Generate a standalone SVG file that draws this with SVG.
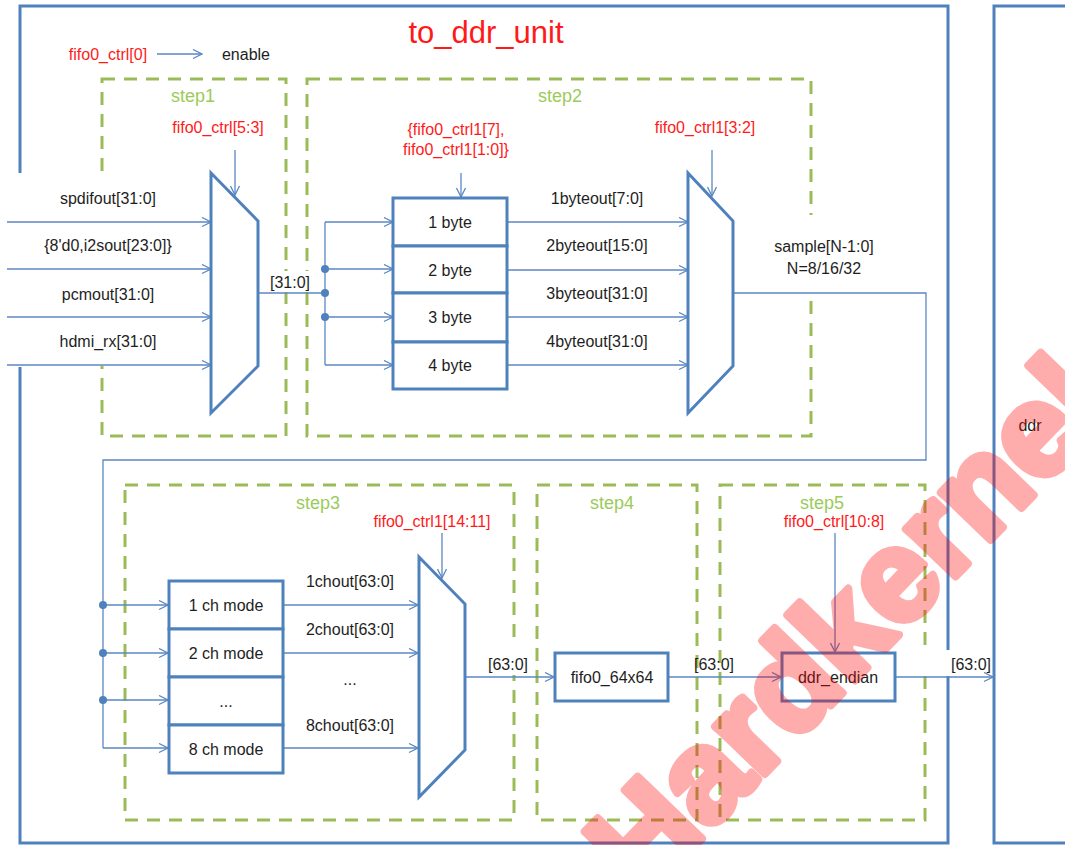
<svg xmlns="http://www.w3.org/2000/svg" width="1065" height="845" viewBox="0 0 1065 845">
<defs>
<style>
.t{font-family:"Liberation Sans",Arial,sans-serif;font-size:16px;fill:#1e1e1e;text-anchor:middle}
.r{fill:#ff1a1a}
.g{fill:#9bcb5a;font-size:18px}
.box{fill:#fff;stroke:#4f81bd;stroke-width:3}
.mux{fill:#fff;stroke:#4f81bd;stroke-width:3;stroke-linejoin:miter}
.ln{fill:none;stroke:#5b87c2;stroke-width:1.3}
.dash{fill:none;stroke:#9bbb59;stroke-width:3;stroke-dasharray:13 9}
.frame{fill:none;stroke:#4f81bd;stroke-width:3}
.dot{fill:#4f81bd}
</style>
<marker id="ar" markerWidth="11" markerHeight="11" refX="10" refY="5.5" orient="auto" markerUnits="userSpaceOnUse">
<path d="M1,1 L10,5.5 L1,10" fill="none" stroke="#5b87c2" stroke-width="1.3"/>
</marker>
</defs>
<rect width="1065" height="845" fill="#fff"/>

<!-- frames -->
<g id="to_ddr_unit">
<path class="frame" d="M20,173 V6 H948 V650 M948,676 V843 H20 V367"/>
<text class="t r" x="486" y="43" style="font-size:31px">to_ddr_unit</text>
</g>
<g id="ddr">
<path class="frame" d="M1070,6 H994 V843 H1070"/>
<text class="t" x="1030" y="431">ddr</text>
</g>

<!-- step boxes -->
<g id="step1"><rect class="dash" x="102" y="79" width="184" height="357"/><text class="t g" x="193" y="102">step1</text></g>
<g id="step2"><rect class="dash" x="307" y="79" width="504" height="357"/><text class="t g" x="560" y="102">step2</text></g>
<g id="step3"><rect class="dash" x="125" y="485" width="389" height="335"/><text class="t g" x="318" y="509">step3</text></g>
<g id="step4"><rect class="dash" x="537" y="485" width="160" height="335"/><text class="t g" x="612" y="509">step4</text></g>
<g id="step5"><rect class="dash" x="720" y="485" width="205" height="335"/><text class="t g" x="822" y="509">step5</text></g>

<!-- label backgrounds (cover frame/dash lines like in reference) -->
<rect x="0" y="174" width="209" height="192" fill="#fff"/>
<rect x="266" y="271" width="46" height="21" fill="#fff"/>
<rect x="760" y="215" width="140" height="77" fill="#fff"/>
<rect x="480" y="645" width="55" height="30" fill="#fff"/>
<rect x="918" y="651" width="74" height="25" fill="#fff"/>

<!-- connectors -->
<g id="connectors">
<path class="ln" d="M157,54 H202" marker-end="url(#ar)"/>
<path class="ln" d="M7,222 H211" marker-end="url(#ar)"/>
<path class="ln" d="M7,269 H211" marker-end="url(#ar)"/>
<path class="ln" d="M7,317 H211" marker-end="url(#ar)"/>
<path class="ln" d="M7,365 H211" marker-end="url(#ar)"/>
<path class="ln" d="M235,150 V195" marker-end="url(#ar)"/>
<path class="ln" d="M258,293 H325"/>
<path class="ln" d="M325,222 V365"/>
<path class="ln" d="M325,222 H393" marker-end="url(#ar)"/>
<path class="ln" d="M325,269 H393" marker-end="url(#ar)"/>
<path class="ln" d="M325,317 H393" marker-end="url(#ar)"/>
<path class="ln" d="M325,365 H393" marker-end="url(#ar)"/>
<circle class="dot" cx="325" cy="269" r="4"/>
<circle class="dot" cx="325" cy="293" r="4"/>
<circle class="dot" cx="325" cy="317" r="4"/>
<path class="ln" d="M461,173 V197" marker-end="url(#ar)"/>
<path class="ln" d="M507,222 H688" marker-end="url(#ar)"/>
<path class="ln" d="M507,270 H688" marker-end="url(#ar)"/>
<path class="ln" d="M507,317 H688" marker-end="url(#ar)"/>
<path class="ln" d="M507,365 H688" marker-end="url(#ar)"/>
<path class="ln" d="M712,150 V196" marker-end="url(#ar)"/>
<path class="ln" d="M733,293 H926 V460 H103 V748"/>
<path class="ln" d="M103,605 H168" marker-end="url(#ar)"/>
<path class="ln" d="M103,653 H168" marker-end="url(#ar)"/>
<path class="ln" d="M103,700 H168" marker-end="url(#ar)"/>
<path class="ln" d="M103,748 H168" marker-end="url(#ar)"/>
<circle class="dot" cx="103" cy="605" r="4"/>
<circle class="dot" cx="103" cy="653" r="4"/>
<circle class="dot" cx="103" cy="700" r="4"/>
<path class="ln" d="M283,605 H418" marker-end="url(#ar)"/>
<path class="ln" d="M283,653 H418" marker-end="url(#ar)"/>
<path class="ln" d="M283,748 H418" marker-end="url(#ar)"/>
<path class="ln" d="M442,533 V578" marker-end="url(#ar)"/>
<path class="ln" d="M465,677 H554" marker-end="url(#ar)"/>
<path class="ln" d="M668,677 H781" marker-end="url(#ar)"/>
<path class="ln" d="M835,533 V652" marker-end="url(#ar)"/>
<path class="ln" d="M895,677 H993" marker-end="url(#ar)"/>
</g>

<g id="labels">
<text class="t r" x="108" y="60">fifo0_ctrl[0]</text>
<text class="t" x="246" y="60">enable</text>
<text class="t r" x="218" y="133">fifo0_ctrl[5:3]</text>
<text class="t" x="108" y="204">spdifout[31:0]</text>
<text class="t" x="108" y="251">{8'd0,i2sout[23:0]}</text>
<text class="t" x="108" y="300">pcmout[31:0]</text>
<text class="t" x="108" y="347">hdmi_rx[31:0]</text>
<text class="t" x="290" y="288">[31:0]</text>
<text class="t r" x="456" y="135">{fifo0_ctrl1[7],</text>
<text class="t r" x="456" y="155">fifo0_ctrl1[1:0]}</text>
<text class="t r" x="705" y="133">fifo0_ctrl1[3:2]</text>
<text class="t" x="597" y="204">1byteout[7:0]</text>
<text class="t" x="597" y="251">2byteout[15:0]</text>
<text class="t" x="597" y="299">3byteout[31:0]</text>
<text class="t" x="597" y="347">4byteout[31:0]</text>
<text class="t" x="824" y="252">sample[N-1:0]</text>
<text class="t" x="824" y="274">N=8/16/32</text>
<text class="t r" x="432" y="527">fifo0_ctrl1[14:11]</text>
<text class="t r" x="834" y="527">fifo0_ctrl[10:8]</text>
<text class="t" x="350" y="587">1chout[63:0]</text>
<text class="t" x="350" y="635">2chout[63:0]</text>
<text class="t" x="350" y="685">...</text>
<text class="t" x="350" y="731">8chout[63:0]</text>
<text class="t" x="508" y="670">[63:0]</text>
<text class="t" x="714" y="670">[63:0]</text>
<text class="t" x="971" y="670">[63:0]</text>
</g>

<!-- nodes -->
<g id="mux1"><polygon class="mux" points="211,173 258,221 258,366 211,413"/></g>
<g id="byte_sel">
<rect class="box" x="393" y="198" width="114" height="48"/>
<rect class="box" x="393" y="246" width="114" height="47"/>
<rect class="box" x="393" y="293" width="114" height="49"/>
<rect class="box" x="393" y="342" width="114" height="47"/>
<text class="t" x="450" y="228">1 byte</text>
<text class="t" x="450" y="276">2 byte</text>
<text class="t" x="450" y="323">3 byte</text>
<text class="t" x="450" y="371">4 byte</text>
</g>
<g id="mux2"><polygon class="mux" points="688,173 733,221 733,366 688,413"/></g>
<g id="ch_sel">
<rect class="box" x="169" y="581" width="114" height="48"/>
<rect class="box" x="169" y="629" width="114" height="48"/>
<rect class="box" x="169" y="677" width="114" height="48"/>
<rect class="box" x="169" y="725" width="114" height="48"/>
<text class="t" x="226" y="611">1 ch mode</text>
<text class="t" x="226" y="659">2 ch mode</text>
<text class="t" x="226" y="707">...</text>
<text class="t" x="226" y="755">8 ch mode</text>
</g>
<g id="mux3"><polygon class="mux" points="419,557 465,604 465,750 419,797"/></g>
<g id="fifo0_64x64"><rect class="box" x="555" y="653" width="113" height="48"/><text class="t" x="612" y="683">fifo0_64x64</text></g>
<g id="ddr_endian"><rect class="box" x="782" y="653" width="113" height="48"/><text class="t" x="838" y="683">ddr_endian</text></g>

<!-- watermark -->
<g opacity="0.32">
<text x="643" y="900" transform="rotate(-46 643 900)" style="font-family:'Liberation Sans',Arial,sans-serif;font-weight:bold;font-size:130px" fill="#ff0000" stroke="#ff0000" stroke-width="8" stroke-linejoin="round">Hardkernel</text>
</g>
</svg>
